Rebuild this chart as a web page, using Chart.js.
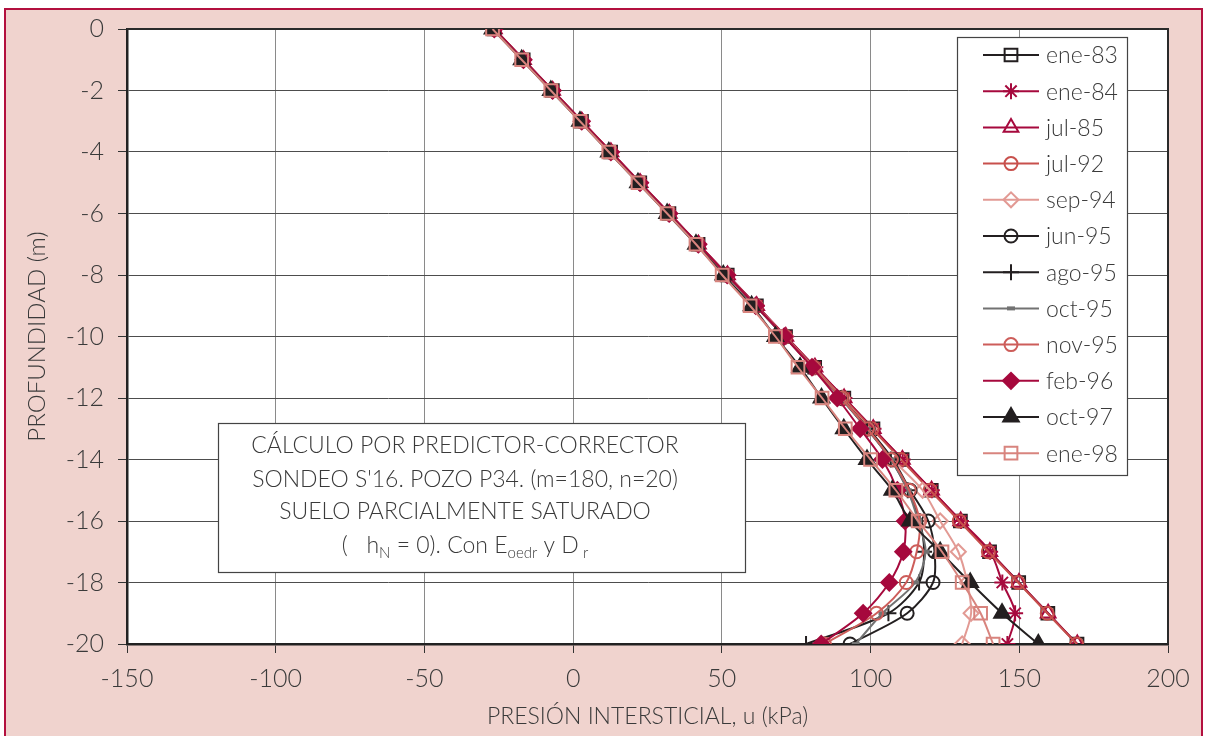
<!DOCTYPE html>
<html>
<head>
<meta charset="utf-8">
<script src="https://cdn.jsdelivr.net/npm/chart.js@4.4.1/dist/chart.umd.min.js"></script>
<style>
html, body { margin: 0; padding: 0; background: #fff; }
#caja { width: 1205px; height: 736px; }
</style>
</head>
<body>
<div id="caja"><canvas id="grafico" width="1205" height="736"></canvas></div>
<script>
// Profundidad (m) y presión intersticial u (kPa) por campaña
const profundidad = [0, -1, -2, -3, -4, -5, -6, -7, -8, -9, -10, -11, -12, -13, -14, -15, -16, -17, -18, -19, -20];

const ene83 = [-26.6, -16.8, -7.0, 2.8, 12.6, 22.4, 32.2, 42.0, 51.8, 61.6, 71.4, 81.2, 91.0, 100.8, 110.6, 120.4, 130.2, 140.0, 149.8, 159.6, 169.4];
const ene84 = [-26.4, -16.6, -6.8, 3.0, 12.8, 22.6, 32.4, 42.2, 52.0, 61.8, 71.6, 81.4, 91.2, 101.0, 110.8, 120.6, 130.4, 140.2, 144.3, 148.6, 146.0];
const jul85 = [-26.5, -16.7, -6.9, 2.9, 12.7, 22.5, 32.3, 42.1, 51.9, 61.7, 71.5, 81.3, 91.1, 100.9, 110.7, 120.5, 130.3, 140.1, 149.9, 159.7, 169.5];
const jul92 = [-26.6, -16.8, -7.0, 2.8, 12.6, 22.4, 32.2, 42.0, 51.8, 61.6, 71.4, 81.0, 90.8, 100.5, 110.2, 120.0, 129.8, 139.6, 149.6, 159.4, 169.3];
const sep94 = [-26.6, -16.8, -7.0, 2.8, 12.6, 22.4, 32.2, 42.0, 51.8, 61.5, 71.2, 80.8, 90.4, 99.5, 107.5, 117.5, 123.4, 129.5, 132.5, 133.8, 130.8];
const jun95 = [-26.7, -16.9, -7.1, 2.7, 12.5, 22.3, 32.1, 41.9, 51.6, 61.3, 71.0, 80.6, 90.2, 99.2, 107.5, 113.3, 119.4, 121.5, 121.0, 112.3, 93.1];
const ago95 = [-26.7, -16.9, -7.1, 2.7, 12.5, 22.3, 32.1, 41.9, 51.6, 61.3, 71.0, 80.6, 90.0, 98.8, 106.8, 112.5, 116.5, 118.0, 116.3, 106.0, 78.3];
const oct95 = [-26.7, -16.9, -7.1, 2.7, 12.5, 22.3, 32.1, 41.9, 51.6, 61.3, 71.0, 80.6, 90.0, 98.8, 106.8, 112.5, 116.0, 118.5, 115.0, 104.0, 95.0];
const nov95 = [-26.6, -16.8, -7.0, 2.8, 12.6, 22.4, 32.2, 42.0, 51.7, 61.4, 71.1, 80.7, 90.2, 99.0, 107.0, 113.0, 116.5, 115.5, 112.0, 102.0, 84.5];
const feb96 = [-26.5, -16.7, -6.9, 2.9, 12.7, 22.5, 32.3, 42.1, 51.8, 61.4, 71.0, 80.3, 88.8, 96.5, 104.0, 109.0, 111.6, 111.0, 106.3, 97.5, 83.4];
const oct97 = [-27.1, -17.3, -7.5, 2.3, 12.0, 21.8, 31.6, 41.3, 50.5, 60.0, 68.0, 76.3, 83.5, 91.0, 98.8, 107.3, 113.3, 123.4, 133.5, 144.2, 156.4];
const ene98 = [-27.1, -17.3, -7.5, 2.3, 12.0, 21.8, 31.6, 41.3, 50.1, 59.5, 68.0, 75.6, 83.7, 91.5, 100.0, 108.5, 116.0, 124.0, 130.8, 137.0, 141.2];

const ticksX = [-150, -100, -50, 0, 50, 100, 150, 200];

const fuente = 'Lato, "Open Sans", sans-serif';
const gris = '#3a3a3a';
const negro = '#231f20';
const granate = '#a6093d';

function serie(label, valores, color, estilo, radio, relleno) {
    return {
        label: label,
        data: valores.map((u, i) => ({ x: u, y: profundidad[i] })),
        borderColor: color,
        backgroundColor: relleno ? color : 'rgba(0,0,0,0)',
        pointBorderColor: color,
        pointBackgroundColor: relleno ? color : 'rgba(0,0,0,0)',
        pointStyle: estilo,
        pointRadius: radio,
        pointBorderWidth: estilo === 'line' ? 4 : 2,
        borderWidth: 2,
        showLine: true,
        tension: 0.3
    };
}

const series = [
    serie('ene-83', ene83, negro, 'rect', 9, false),
    serie('ene-84', ene84, granate, 'star', 8, false),
    serie('jul-85', jul85, granate, 'triangle', 8.5, false),
    serie('jul-92', jul92, '#c8504c', 'circle', 6.5, false),
    serie('sep-94', sep94, '#e29a94', 'rectRot', 7.5, false),
    serie('jun-95', jun95, negro, 'circle', 6.5, false),
    serie('ago-95', ago95, negro, 'cross', 8, false),
    serie('oct-95', oct95, '#727272', 'line', 4, false),
    serie('nov-95', nov95, '#cd5d5a', 'circle', 6.5, false),
    serie('feb-96', feb96, granate, 'rectRot', 8, true),
    serie('oct-97', oct97, negro, 'triangle', 9, true),
    serie('ene-98', ene98, '#d8847e', 'rect', 9, false)
];
// la última serie queda encima
series.forEach((s, i) => { s.order = series.length - 1 - i; });

// fondo rosa, marco granate y área de trazado blanca
const fondo = {
    id: 'fondo',
    beforeDraw(chart) {
        const { ctx, chartArea: a } = chart;
        ctx.save();
        ctx.fillStyle = '#fff';
        ctx.fillRect(0, 0, chart.width, chart.height);
        ctx.fillStyle = '#f0d3ce';
        ctx.fillRect(5, 9, chart.width - 7, chart.height);
        ctx.strokeStyle = '#b3103f';
        ctx.lineWidth = 2;
        ctx.strokeRect(5, 9, chart.width - 8, chart.height + 10);
        ctx.fillStyle = '#fff';
        ctx.fillRect(a.left, a.top, a.width, a.height);
        ctx.restore();
    },
    beforeDatasetsDraw(chart) {
        const { ctx, chartArea: a } = chart;
        ctx.save();
        ctx.strokeStyle = '#2a2a2a';
        ctx.lineWidth = 2;
        ctx.beginPath();
        ctx.moveTo(a.left, a.top);
        ctx.lineTo(a.right, a.top);
        ctx.lineTo(a.right, a.bottom);
        ctx.stroke();
        ctx.restore();
    }
};

// leyenda y cuadro de texto
const anotaciones = {
    id: 'anotaciones',
    afterDatasetsDraw(chart) {
        const ctx = chart.ctx;
        ctx.save();

        // leyenda
        ctx.fillStyle = '#fff';
        ctx.fillRect(957, 37, 170, 438);
        ctx.strokeStyle = '#444';
        ctx.lineWidth = 1.2;
        ctx.strokeRect(957.5, 37.5, 170, 438);
        ctx.font = '300 23px ' + fuente;
        ctx.textBaseline = 'middle';
        ctx.textAlign = 'left';
        chart.data.datasets.forEach((ds, i) => {
            const y = 55 + i * 36.2;
            ctx.strokeStyle = ds.borderColor;
            ctx.lineWidth = 2;
            ctx.beginPath();
            ctx.moveTo(983, y);
            ctx.lineTo(1039, y);
            ctx.stroke();
            ctx.fillStyle = ds.pointBackgroundColor;
            ctx.lineWidth = ds.pointBorderWidth;
            Chart.helpers.drawPoint(ctx, {
                pointStyle: ds.pointStyle,
                radius: ds.pointRadius,
                rotation: 0,
                borderWidth: ds.pointBorderWidth
            }, 1011, y);
            ctx.fillStyle = gris;
            ctx.fillText(ds.label, 1046, y + 1);
        });

        // cuadro de texto
        ctx.fillStyle = '#fff';
        ctx.fillRect(218, 423, 527, 149);
        ctx.strokeStyle = '#444';
        ctx.lineWidth = 1.2;
        ctx.strokeRect(218.5, 423.5, 527, 149);
        const cx = 465;
        ctx.fillStyle = gris;
        ctx.textAlign = 'center';
        ctx.font = '300 23px ' + fuente;
        ctx.fillText('CÁLCULO POR PREDICTOR-CORRECTOR', cx, 446);
        ctx.fillText("SONDEO S'16. POZO P34. (m=180, n=20)", cx, 480);
        ctx.fillText('SUELO PARCIALMENTE SATURADO', cx, 512);

        const trozos = [
            ['(   h', false], ['N', true], [' = 0). Con E', false],
            ['oedr', true], [' y D', false], [' r', true]
        ];
        const fNormal = '300 23px ' + fuente;
        const fSub = '300 15px ' + fuente;
        let total = 0;
        trozos.forEach(t => { ctx.font = t[1] ? fSub : fNormal; total += ctx.measureText(t[0]).width; });
        let x = cx - total / 2;
        ctx.textAlign = 'left';
        trozos.forEach(t => {
            ctx.font = t[1] ? fSub : fNormal;
            ctx.fillText(t[0], x, t[1] ? 553 : 546);
            x += ctx.measureText(t[0]).width;
        });
        ctx.restore();
    }
};

new Chart(document.getElementById('grafico'), {
    type: 'scatter',
    data: { datasets: series },
    options: {
        responsive: false,
        animation: false,
        devicePixelRatio: 1,
        layout: { padding: { top: 29, right: 37, bottom: 0, left: 0 } },
        plugins: {
            legend: { display: false },
            tooltip: { enabled: false }
        },
        scales: {
            x: {
                type: 'linear',
                min: -150,
                max: 200,
                afterBuildTicks: (s) => { s.ticks = ticksX.map(v => ({ value: v })); },
                afterFit: (s) => { s.height = 92; },
                ticks: { color: gris, padding: 11, font: { family: fuente, size: 25, weight: 300 } },
                grid: { color: '#8a8a8a', lineWidth: 1, tickLength: 9, tickColor: '#333' },
                border: { display: true, color: '#222', width: 2.5 },
                title: {
                    display: true,
                    text: 'PRESIÓN INTERSTICIAL, u (kPa)',
                    color: gris,
                    font: { family: fuente, size: 23, weight: 300 },
                    padding: { top: 0, bottom: 6 }
                }
            },
            y: {
                type: 'linear',
                min: -20,
                max: 0,
                ticks: { stepSize: 2, color: gris, padding: 14, font: { family: fuente, size: 25, weight: 300 } },
                afterFit: (s) => { s.width = 127; },
                grid: { color: '#4d4d4d', lineWidth: 1, tickLength: 9, tickColor: '#333' },
                border: { display: true, color: '#222', width: 2.5 },
                title: {
                    display: true,
                    text: 'PROFUNDIDAD (m)',
                    color: gris,
                    font: { family: fuente, size: 24, weight: 300 },
                    padding: { top: 23, bottom: 0 }
                }
            }
        }
    },
    plugins: [fondo, anotaciones]
});
</script>
</body>
</html>
